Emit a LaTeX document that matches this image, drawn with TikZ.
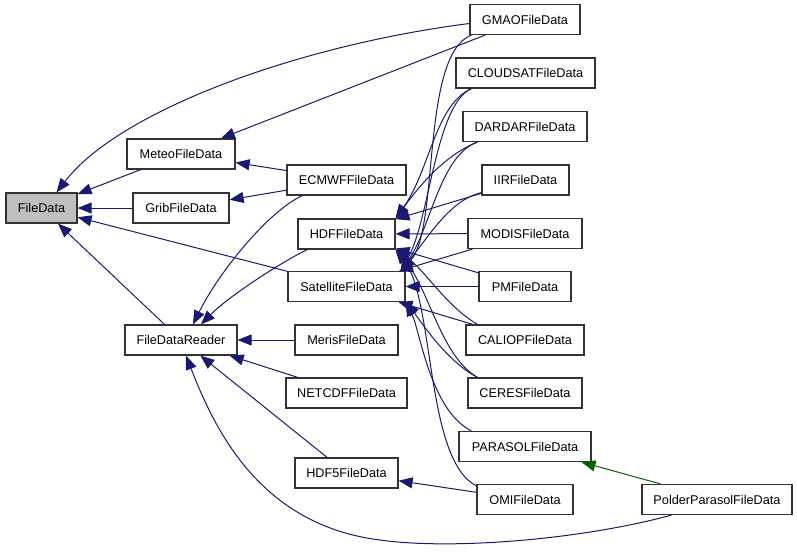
\documentclass[tikz,border=0pt]{standalone}
\usepackage{fontspec}
\setmainfont{Liberation Sans}
\usetikzlibrary{arrows.meta}
\definecolor{midblue}{HTML}{191970}
\definecolor{darkgreen}{HTML}{006400}
\definecolor{basegray}{HTML}{BFBFBF}
\tikzset{
  cls/.style={draw=black!80, line width=1.2pt, minimum height=30pt, inner sep=0pt, fill=white, font=\fontsize{12.7}{14}\selectfont},
  inh/.style={draw=midblue, line width=1pt, -{Triangle[length=14pt,width=11pt]}},
  inhg/.style={inh, draw=darkgreen, -{Triangle[length=14pt,width=11pt,fill=darkgreen]}}
}
\begin{document}
\begin{tikzpicture}[x=1pt, y=-1pt]
			%%%%% START %%%%%
			\useasboundingbox (0,0) rectangle (797,552);
			
			% left column
			\node[cls, minimum width=71pt, fill=basegray] (filedata) at (41.5,208) {FileData};
			\node[cls, minimum width=108pt] (meteo) at (181,154) {MeteoFileData};
			\node[cls, minimum width=96pt] (grib) at (181,208) {GribFileData};
			\node[cls, minimum width=112pt] (fdr) at (181,340) {FileDataReader};
			
			% middle column
			\node[cls, minimum width=119pt] (ecmwf) at (346.5,180) {ECMWFFileData};
			\node[cls, minimum width=97pt] (hdf) at (346.5,234) {HDFFileData};
			\node[cls, minimum width=117pt] (satellite) at (346.5,286.5) {SatelliteFileData};
			\node[cls, minimum width=103pt] (meris) at (346.5,340) {MerisFileData};
			\node[cls, minimum width=121pt] (netcdf) at (346.5,393) {NETCDFFileData};
			\node[cls, minimum width=103pt] (hdf5) at (346.5,473) {HDF5FileData};
			
			% right column
			\node[cls, minimum width=110pt] (gmao) at (525,19.5) {GMAOFileData};
			\node[cls, minimum width=139pt] (cloudsat) at (525.5,73) {CLOUDSATFileData};
			\node[cls, minimum width=124pt] (dardar) at (525,126.5) {DARDARFileData};
			\node[cls, minimum width=87pt] (iir) at (525.5,180) {IIRFileData};
			\node[cls, minimum width=114pt] (modis) at (525,233.5) {MODISFileData};
			\node[cls, minimum width=92pt] (pm) at (525,286.5) {PMFileData};
			\node[cls, minimum width=118pt] (caliop) at (525,340) {CALIOPFileData};
			\node[cls, minimum width=114pt] (ceres) at (525,393) {CERESFileData};
			\node[cls, minimum width=132pt] (parasol) at (525,446.5) {PARASOLFileData};
			\node[cls, minimum width=96pt] (omi) at (525,499.5) {OMIFileData};
			\node[cls, minimum width=150pt] (polder) at (717,499.5) {PolderParasolFileData};
			
			% to FileData
			\draw[inh] (meteo) -- (filedata);
			\draw[inh] (grib) -- (filedata);
			\draw[inh] (satellite) -- (filedata);
			\draw[inh] (fdr) -- (filedata);
			\draw[inh] ([yshift=-4pt]gmao.west) .. controls (300,45) and (120,110) .. ([xshift=15pt]filedata.north);
			
			% to MeteoFileData, GribFileData
			\draw[inh] (gmao) -- (meteo);
			\draw[inh] (ecmwf) -- (meteo);
			\draw[inh] (ecmwf) -- (grib);
			
			% to FileDataReader
			\draw[inh] ([xshift=16pt]ecmwf.south west) .. controls (270,210) and (220,270) .. ([xshift=12pt]fdr.north);
			\draw[inh] ([xshift=10pt]hdf.south west) .. controls (285,260) and (230,295) .. ([xshift=20pt]fdr.north);
			\draw[inh] (meris) -- (fdr);
			\draw[inh] (netcdf) -- (fdr);
			\draw[inh] (hdf5) -- (fdr);
			\draw[inh] ([xshift=30pt]polder.south west) .. controls (580,540) and (450,550) .. (380,540)
			  .. controls (260,525) and (215,430) .. ([xshift=5pt]fdr.south);
			
			% to HDFFileData
			\draw[inh] ([xshift=16pt]cloudsat.south west) .. controls (435,105) and (430,170) .. (hdf.north east);
			\draw[inh] ([xshift=15pt]dardar.south west) .. controls (445,155) and (420,185) .. (hdf.north east);
			\draw[inh] (iir) -- (hdf);
			\draw[inh] (modis) -- (hdf);
			\draw[inh] (pm) -- (hdf);
			\draw[inh] ([xshift=12pt]caliop.north west) .. controls (445,305) and (425,270) .. (hdf.south east);
			\draw[inh] ([xshift=10pt]ceres.north west) .. controls (440,355) and (430,290) .. (hdf.south east);
			\draw[inh] ([yshift=-2pt]omi.north west) .. controls (425,460) and (435,300) .. (hdf.south east);
			
			% to SatelliteFileData
			\draw[inh] ([xshift=2pt]gmao.south west) .. controls (420,55) and (440,230) .. ([xshift=-5pt]satellite.north east);
			\draw[inh] ([xshift=16pt]cloudsat.south west) .. controls (435,105) and (430,220) .. ([xshift=-5pt]satellite.north east);
			\draw[inh] ([xshift=15pt]dardar.south west) .. controls (440,155) and (430,230) .. ([xshift=-5pt]satellite.north east);
			\draw[inh] ([yshift=3pt]iir.south west) .. controls (450,200) and (430,235) .. ([xshift=-5pt]satellite.north east);
			\draw[inh] (modis) -- (satellite);
			\draw[inh] (pm) -- (satellite);
			\draw[inh] (caliop) -- (satellite);
			\draw[inh] ([xshift=10pt]ceres.north west) .. controls (445,360) and (420,320) .. (satellite.south east);
			\draw[inh] ([xshift=13pt]parasol.north west) .. controls (430,410) and (420,330) .. (satellite.south east);
			
			% to HDF5FileData, PARASOLFileData
			\draw[inh] (omi) -- (hdf5);
			\draw[inhg] (polder) -- (parasol);
			
			%%%%% END %%%%%
		\end{tikzpicture}
\end{document}
